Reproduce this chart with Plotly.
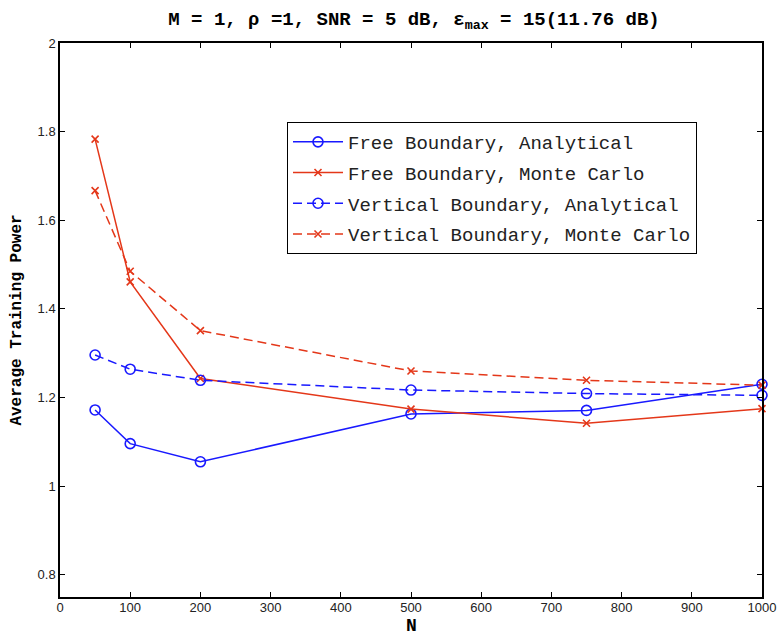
import plotly.graph_objects as go

N = [50, 100, 200, 500, 750, 1000]
free_analytical = [1.172, 1.096, 1.055, 1.163, 1.171, 1.230]
free_montecarlo = [1.783, 1.461, 1.243, 1.174, 1.142, 1.175]
vert_analytical = [1.296, 1.264, 1.239, 1.217, 1.209, 1.205]
vert_montecarlo = [1.667, 1.485, 1.351, 1.260, 1.239, 1.228]

x_ticks = [0, 100, 200, 300, 400, 500, 600, 700, 800, 900, 1000]
y_ticks = [0.8, 1.0, 1.2, 1.4, 1.6, 1.8, 2.0]
y_tick_labels = ["0.8", "1", "1.2", "1.4", "1.6", "1.8", "2"]

BLUE = "rgb(25,25,255)"
RED = "rgb(228,55,25)"

fig = go.Figure()
series = [
    ("Free Boundary, Analytical", free_analytical, BLUE, "solid", "circle-open", 10),
    ("Free Boundary, Monte Carlo", free_montecarlo, RED, "solid", "x-thin-open", 7),
    ("Vertical Boundary, Analytical", vert_analytical, BLUE, "9px,5px", "circle-open", 10),
    ("Vertical Boundary, Monte Carlo", vert_montecarlo, RED, "9px,5px", "x-thin-open", 7),
]
for i, (name, ys, col, dash, sym, sz) in enumerate(series):
    fig.add_trace(go.Scatter(
        x=N, y=ys, name=name, mode="lines+markers", legendgroup=f"g{i}",
        line=dict(color=col, width=1.5, dash=dash),
        marker=dict(symbol=sym, size=sz, color=col, line=dict(color=col, width=1.6)),
        cliponaxis=False,
    ))

axis_common = dict(
    showline=True, linecolor="black", linewidth=1.5, mirror="ticks",
    ticks="inside", ticklen=5, tickcolor="black", tickwidth=1,
    showgrid=False, zeroline=False,
    tickfont=dict(family="Liberation Sans, Arial", size=13, color="#222"),
)

fig.update_layout(
    width=779, height=637,
    margin=dict(l=60, r=17, t=43, b=40, autoexpand=False),
    paper_bgcolor="white", plot_bgcolor="white",
    title=dict(
        text="<b>M = 1, ρ =1, SNR = 5 dB, ε<sub>max</sub> = 15(11.76 dB)</b>",
        x=414 / 779, xanchor="center", y=1 - 18 / 637, yanchor="middle",
        font=dict(family="Liberation Mono, Courier New", size=19, color="black"),
    ),
    xaxis=dict(range=[0, 1000], tickvals=x_ticks, ticklabelstandoff=-2, **axis_common),
    yaxis=dict(range=[0.75, 2.0], tickvals=y_ticks, ticktext=y_tick_labels,
               title=dict(text="<b>Average Training Power</b>", standoff=12,
                          font=dict(family="Liberation Mono, Courier New", size=16, color="black")),
               **axis_common),
    legend=dict(
        x=(287 - 60) / 702, y=(597 - 122) / 554, xanchor="left", yanchor="top",
        bordercolor="black", borderwidth=1, bgcolor="white",
        font=dict(family="Liberation Mono, Courier New", size=19, color="#222"),
        itemwidth=50, tracegroupgap=3,
    ),
    annotations=[dict(
        text="<b>N</b>", xref="paper", yref="paper",
        x=0.5, y=-(626 - 597) / 554, xanchor="center", yanchor="middle",
        showarrow=False, borderpad=0,
        font=dict(family="Liberation Mono, Courier New", size=18, color="black"),
    )],
)

fig.write_html("out.html")
